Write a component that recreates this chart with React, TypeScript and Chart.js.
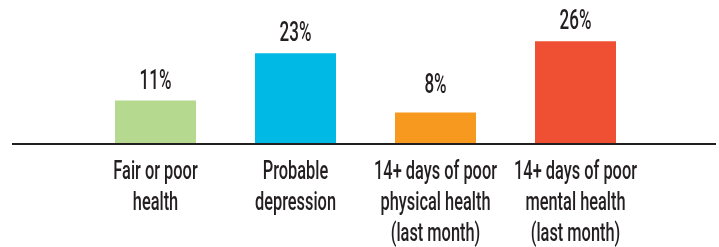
import React, { useEffect, useRef } from "react";
import { Chart, registerables } from "chart.js";

Chart.register(...registerables);

const categories: string[][] = [
  ["Fair or poor", "health"],
  ["Probable", "depression"],
  ["14+ days of poor", "physical health", "(last month)"],
  ["14+ days of poor", "mental health", "(last month)"],
];
const values: number[] = [11, 23, 8, 26];
const barColors: string[] = ["#b5d98f", "#00b9e4", "#f7991e", "#ef5033"];

const TEXT = "#231f20";
const FONT = "Roboto, 'DejaVu Sans Condensed', sans-serif";
const TICK_SQUEEZE = 0.655;
const VALUE_SQUEEZE = 0.63;
const LABEL_FLOOR = 13; // value labels never sit lower than this level

const squeezePlugin = {
  id: "squeeze",
  beforeDraw(chart: any) {
    const ctx = chart.ctx as any;
    if (ctx.__origFill) return;
    const orig = ctx.fillText;
    ctx.__origFill = orig;
    ctx.__squeeze = TICK_SQUEEZE;
    ctx.fillText = function (text: string, x: number, y: number, mw?: number) {
      const k = ctx.__squeeze;
      ctx.save();
      ctx.translate(x, y);
      ctx.scale(k, 1);
      if (mw !== undefined) orig.call(ctx, text, 0, 0, mw);
      else orig.call(ctx, text, 0, 0);
      ctx.restore();
    };
  },
  afterDraw(chart: any) {
    const ctx = chart.ctx as any;
    if (ctx.__origFill) {
      ctx.fillText = ctx.__origFill;
      delete ctx.__origFill;
    }
  },
};

const axisLinePlugin = {
  id: "axisLine",
  afterDatasetsDraw(chart: any) {
    const ctx = chart.ctx;
    const y = chart.scales.y.getPixelForValue(0);
    ctx.save();
    ctx.strokeStyle = TEXT;
    ctx.lineWidth = 2;
    ctx.beginPath();
    ctx.moveTo(12, y);
    ctx.lineTo(716, y);
    ctx.stroke();
    ctx.restore();
  },
};

const valueLabelPlugin = {
  id: "valueLabels",
  afterDatasetsDraw(chart: any) {
    const ctx = chart.ctx as any;
    const meta = chart.getDatasetMeta(0);
    const floorY = chart.scales.y.getPixelForValue(LABEL_FLOOR);
    ctx.save();
    ctx.__squeeze = VALUE_SQUEEZE;
    ctx.font = `500 27px ${FONT}`;
    ctx.fillStyle = TEXT;
    ctx.textAlign = "center";
    ctx.textBaseline = "alphabetic";
    meta.data.forEach((bar: any, i: number) => {
      const y = Math.min(bar.y - 12, floorY);
      ctx.fillText(values[i] + "%", bar.x, y);
    });
    ctx.__squeeze = TICK_SQUEEZE;
    ctx.restore();
  },
};

export default function App() {
  const ref = useRef<HTMLCanvasElement | null>(null);
  useEffect(() => {
    if (!ref.current) return;
    const chart = new Chart(ref.current, {
      type: "bar",
      data: {
        labels: categories,
        datasets: [
          {
            data: values,
            backgroundColor: barColors,
            borderWidth: 0,
            barPercentage: 81 / 140,
            categoryPercentage: 1,
          },
        ],
      },
      options: {
        responsive: false,
        animation: false,
        layout: { padding: { left: 85.5, right: 73.5, top: 0, bottom: 0 } },
        plugins: {
          legend: { display: false },
          tooltip: { enabled: false },
        },
        scales: {
          x: {
            grid: { display: false },
            border: { display: false },
            ticks: {
              color: TEXT,
              padding: 5,
              maxRotation: 0,
              autoSkip: false,
              font: { family: FONT, size: 25, weight: "500", lineHeight: 1.24 },
            },
            afterFit: (scale: any) => {
              scale.height = 103;
            },
          },
          y: {
            display: false,
            min: 0,
            max: 36.45,
          },
        },
      },
      plugins: [squeezePlugin, axisLinePlugin, valueLabelPlugin],
    });
    return () => chart.destroy();
  }, []);
  return (
    <div style={{ position: "absolute", left: 0, top: 0, width: 719, height: 247, background: "#fff" }}>
      <canvas ref={ref} width={719} height={247} style={{ display: "block" }} />
    </div>
  );
}
